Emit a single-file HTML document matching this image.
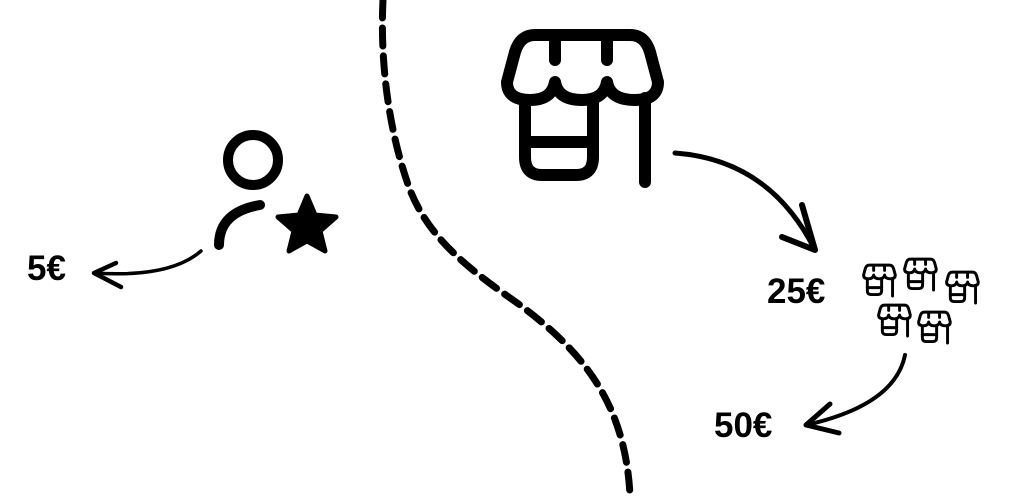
<!DOCTYPE html>
<html><head><meta charset="utf-8"><style>
html,body{margin:0;padding:0;background:#fff;width:1024px;height:500px;overflow:hidden}
svg{display:block}
text{font-family:"Liberation Sans",sans-serif;font-weight:bold;fill:#000}
</style></head><body>
<svg width="1024" height="500" viewBox="0 0 1024 500">
<defs>
<g id="store" fill="none" stroke="#000" stroke-linecap="round" stroke-linejoin="round">
<path d="M45 15 H140 Q155 15 160 32 L168 62 Q168 80 145 80 Q120 80 117 62 Q114 80 92 80 Q68 80 65 62 Q62 80 40 80 Q17 80 17 62 L25 32 Q30 15 45 15 Z"/>
<path d="M65 17 V40 M117 17 V40"/>
<path d="M35 82 V137 Q35 155 52 155 H86 Q103 155 103 137 V82"/>
<path d="M35 122 H103"/>
<path d="M155 78 V162"/>
</g>
</defs>
<path d="M383 0 C380 60 388 130 410 190 C430 240 470 270 520 305 C580 350 625 400 630 495" fill="none" stroke="#000" stroke-width="7" stroke-dasharray="18 10" stroke-linecap="round"/>
<use href="#store" transform="translate(490,20)" stroke-width="12"/>
<use href="#store" transform="translate(860,262) scale(0.21)" stroke-width="14"/>
<use href="#store" transform="translate(901,256) scale(0.21)" stroke-width="14"/>
<use href="#store" transform="translate(943,269) scale(0.21)" stroke-width="14"/>
<use href="#store" transform="translate(875,302) scale(0.21)" stroke-width="14"/>
<use href="#store" transform="translate(915,309) scale(0.21)" stroke-width="14"/>
<circle cx="253" cy="160" r="25" fill="none" stroke="#000" stroke-width="10"/>
<path d="M219 245 Q219 212 260 205" fill="none" stroke="#000" stroke-width="10" stroke-linecap="round"/>
<path d="M307 196 L315 215 L336 217 L320 231 L325 251 L307 241 L289 251 L294 231 L278 217 L299 215 Z" fill="#000" stroke="#000" stroke-width="5" stroke-linejoin="round"/>
<g fill="none" stroke="#000" stroke-linecap="round" stroke-linejoin="round">
<path d="M201 251 Q170 278 95 273" stroke-width="3.5"/>
<path d="M116 263 L94 273 L121 287" stroke-width="4.5"/>
<path d="M675 153 Q770 160 815 250" stroke-width="5"/>
<path d="M802 205 L815 250 L782 237" stroke-width="6"/>
<path d="M905 355 Q895 405 806 425" stroke-width="4"/>
<path d="M830 404 L806 425 L839 433" stroke-width="5"/>
</g>
<text x="27" y="280" font-size="35">5€</text>
<text x="767" y="303" font-size="35">25€</text>
<text x="714" y="437" font-size="35">50€</text>
</svg>
</body></html>
